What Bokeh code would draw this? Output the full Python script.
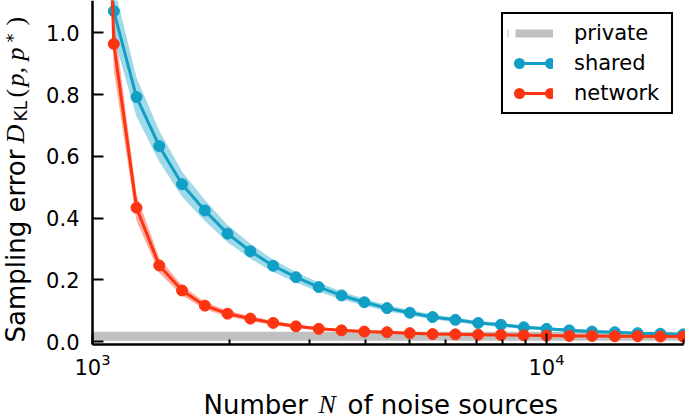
import math
from bokeh.plotting import figure
from bokeh.models import (ColumnDataSource, FixedTicker, PrintfTickFormatter, Range1d,
                          Label, Legend, LegendItem, LinearAxis, LogAxis)
from bokeh.embed import file_html
from bokeh.resources import INLINE

# ---------------- data ----------------
N = [992, 1114, 1250, 1403, 1575, 1768, 1984, 2227, 2500, 2806, 3150, 3536, 3969, 4454,
     5000, 5612, 6300, 7071, 7937, 8909, 10000, 11225, 12599, 14142, 15874, 17818, 20000]
shared = [1.90, 1.070, 0.792, 0.633, 0.510, 0.425, 0.350, 0.293, 0.246, 0.209, 0.177, 0.150,
          0.128, 0.109, 0.094, 0.080, 0.071, 0.061, 0.055, 0.047, 0.042, 0.037, 0.033, 0.031,
          0.028, 0.026, 0.024]
shared_err = [0.15, 0.085, 0.063, 0.050, 0.041, 0.034, 0.028, 0.024, 0.020, 0.017, 0.015, 0.013,
              0.011, 0.010, 0.009, 0.008, 0.007, 0.007, 0.006, 0.006, 0.005, 0.005, 0.005, 0.004,
              0.004, 0.004, 0.004]
network = [3.40, 0.964, 0.434, 0.247, 0.166, 0.117, 0.091, 0.075, 0.061, 0.050, 0.042, 0.037,
           0.033, 0.031, 0.028, 0.025, 0.024, 0.023, 0.022, 0.021, 0.020, 0.019, 0.019, 0.018,
           0.018, 0.017, 0.017]
network_err = [0.30, 0.085, 0.042, 0.024, 0.016, 0.012, 0.010, 0.008, 0.007, 0.006, 0.005, 0.004,
               0.004, 0.004, 0.003, 0.003, 0.003, 0.003, 0.003, 0.003, 0.003, 0.003, 0.003, 0.003,
               0.003, 0.003, 0.003]
private_N = [1000, 20000]
private = [0.018, 0.018]

x_major = [1000, 10000]
x_minor = [2000, 3000, 4000, 5000, 6000, 7000, 8000, 9000, 20000]
y_ticks = [0.0, 0.2, 0.4, 0.6, 0.8, 1.0]
x_lim = (1000, 20000)
y_lim = (-0.008, 1.1045)

BLUE = "#129fc6"
RED = "#fc3412"
GRAY = "#c0c0c0"

src_s = ColumnDataSource(dict(N=N, y=shared,
                              lo=[v - e for v, e in zip(shared, shared_err)],
                              hi=[v + e for v, e in zip(shared, shared_err)]))
src_n = ColumnDataSource(dict(N=N, y=network,
                              lo=[v - e for v, e in zip(network, network_err)],
                              hi=[v + e for v, e in zip(network, network_err)]))
src_p = ColumnDataSource(dict(N=private_N, y=private))
# legend-key source: lies outside the visible y range, so it only shows in the legend
src_key = ColumnDataSource(dict(N=[1000, 20000], y=[5.0, 5.0]))

# the frame fills the canvas; axes sit at fixed data locations (axes box 92..683 x 0..344 px)
W, H = 685, 419
AX_L = 92
px_per_dec = 454.0
px_per_unit = 309.0
x_start = 10 ** (math.log10(x_lim[0]) - AX_L / px_per_dec)
x_end = 10 ** (math.log10(x_lim[0]) + (W - AX_L) / px_per_dec)
y_end = y_lim[1]
y_start = y_end - H / px_per_unit

p = figure(width=W, height=H, x_axis_type="log", x_axis_location=None, y_axis_location=None,
           x_range=Range1d(x_start, x_end), y_range=Range1d(y_start, y_end),
           output_backend="svg", toolbar_location=None, min_border=0)
p.outline_line_color = None
p.xgrid.visible = False
p.ygrid.visible = False
p.background_fill_color = "white"

r_priv = p.line("N", "y", source=src_p, line_color=GRAY, line_width=9)

p.varea("N", "lo", "hi", source=src_s, fill_color=BLUE, fill_alpha=0.4)
r_sl = p.line("N", "y", source=src_s, line_color=BLUE, line_width=3)
r_sm = p.scatter("N", "y", source=src_s, size=11, fill_color=BLUE, line_color=BLUE)

p.varea("N", "lo", "hi", source=src_n, fill_color=RED, fill_alpha=0.4)
r_nl = p.line("N", "y", source=src_n, line_color=RED, line_width=3)
r_nm = p.scatter("N", "y", source=src_n, size=11, fill_color=RED, line_color=RED)

# legend keys: a line segment between two round end markers
def key(color):
    seg = p.line("N", "y", source=src_key, line_color=color, line_width=3,
                 line_dash="31 15", line_dash_offset=34)
    dots = p.line("N", "y", source=src_key, line_color=color, line_width=11,
                  line_cap="round", line_dash="0 31", line_dash_offset=19)
    return [seg, dots]

k_priv = p.line("N", "y", source=src_key, line_color=GRAY, line_width=8,
                line_dash="39 7", line_dash_offset=38)

xaxis = LogAxis(fixed_location=y_lim[0], bounds=x_lim,
                ticker=FixedTicker(ticks=x_major, minor_ticks=x_minor))
yaxis = LinearAxis(fixed_location=x_lim[0], bounds=y_lim,
                   ticker=FixedTicker(ticks=y_ticks, minor_ticks=[]),
                   formatter=PrintfTickFormatter(format="%.1f"))
for ax in (xaxis, yaxis):
    ax.axis_line_width = 2.5
    ax.axis_line_color = "black"
    ax.major_tick_in = 11
    ax.major_tick_out = 0
    ax.major_tick_line_width = 2
    ax.minor_tick_in = 5
    ax.minor_tick_out = 0
    ax.minor_tick_line_width = 2
    ax.major_label_text_font = "DejaVu Sans"
    ax.major_label_text_font_size = "21px"
    ax.major_label_text_color = "black"
xaxis.major_label_standoff = 9
yaxis.major_label_standoff = 13
p.add_layout(xaxis, "below")
p.add_layout(yaxis, "left")

legend = Legend(items=[LegendItem(label="private", renderers=[k_priv]),
                       LegendItem(label="shared", renderers=key(BLUE)),
                       LegendItem(label="network", renderers=key(RED))],
                location="top_right", margin=12, padding=4, spacing=0,
                label_height=30, glyph_height=30, glyph_width=46, label_standoff=21,
                label_width=93,
                label_text_font="DejaVu Sans", label_text_font_size="21px",
                label_text_color="black",
                border_line_color="black", border_line_width=2.5, border_line_alpha=1.0,
                background_fill_color="white", background_fill_alpha=1.0)
p.add_layout(legend)

# y-axis title, composed of pieces (rotated); screen units from bottom-left
ypieces = [
    ("Sampling error", 0, "DejaVu Sans", "normal", 26, 0),
    ("D", 199, "Liberation Serif", "italic", 26, 0),
    ("KL", 221, "DejaVu Sans", "normal", 17, 5),
    ("(", 245, "Liberation Serif", "normal", 26, 0),
    ("p, p", 256, "Liberation Serif", "italic", 26, 0),
    ("*", 300, "DejaVu Sans", "normal", 18, -3),
    (")", 317, "Liberation Serif", "normal", 26, 0),
]
for txt, off, font, style, size, dx in ypieces:
    p.add_layout(Label(x=15 + dx, y=77 + off, x_units="screen", y_units="screen",
                       angle=math.pi / 2, text=txt, text_font=font, text_font_style=style,
                       text_font_size=f"{size}px", text_align="left",
                       text_baseline="alphabetic", text_color="black"))

# x-axis title, composed of pieces
xpieces = [
    ("Number", 203, "DejaVu Sans", "normal"),
    ("N", 318, "Liberation Serif", "italic"),
    ("of noise sources", 347, "DejaVu Sans", "normal"),
]
for txt, xo, font, style in xpieces:
    p.add_layout(Label(x=xo, y=15, x_units="screen", y_units="screen",
                       text=txt, text_font=font, text_font_style=style,
                       text_font_size="26px", text_align="left",
                       text_baseline="alphabetic", text_color="black"))

open("out.html", "w").write(file_html(p, INLINE))
